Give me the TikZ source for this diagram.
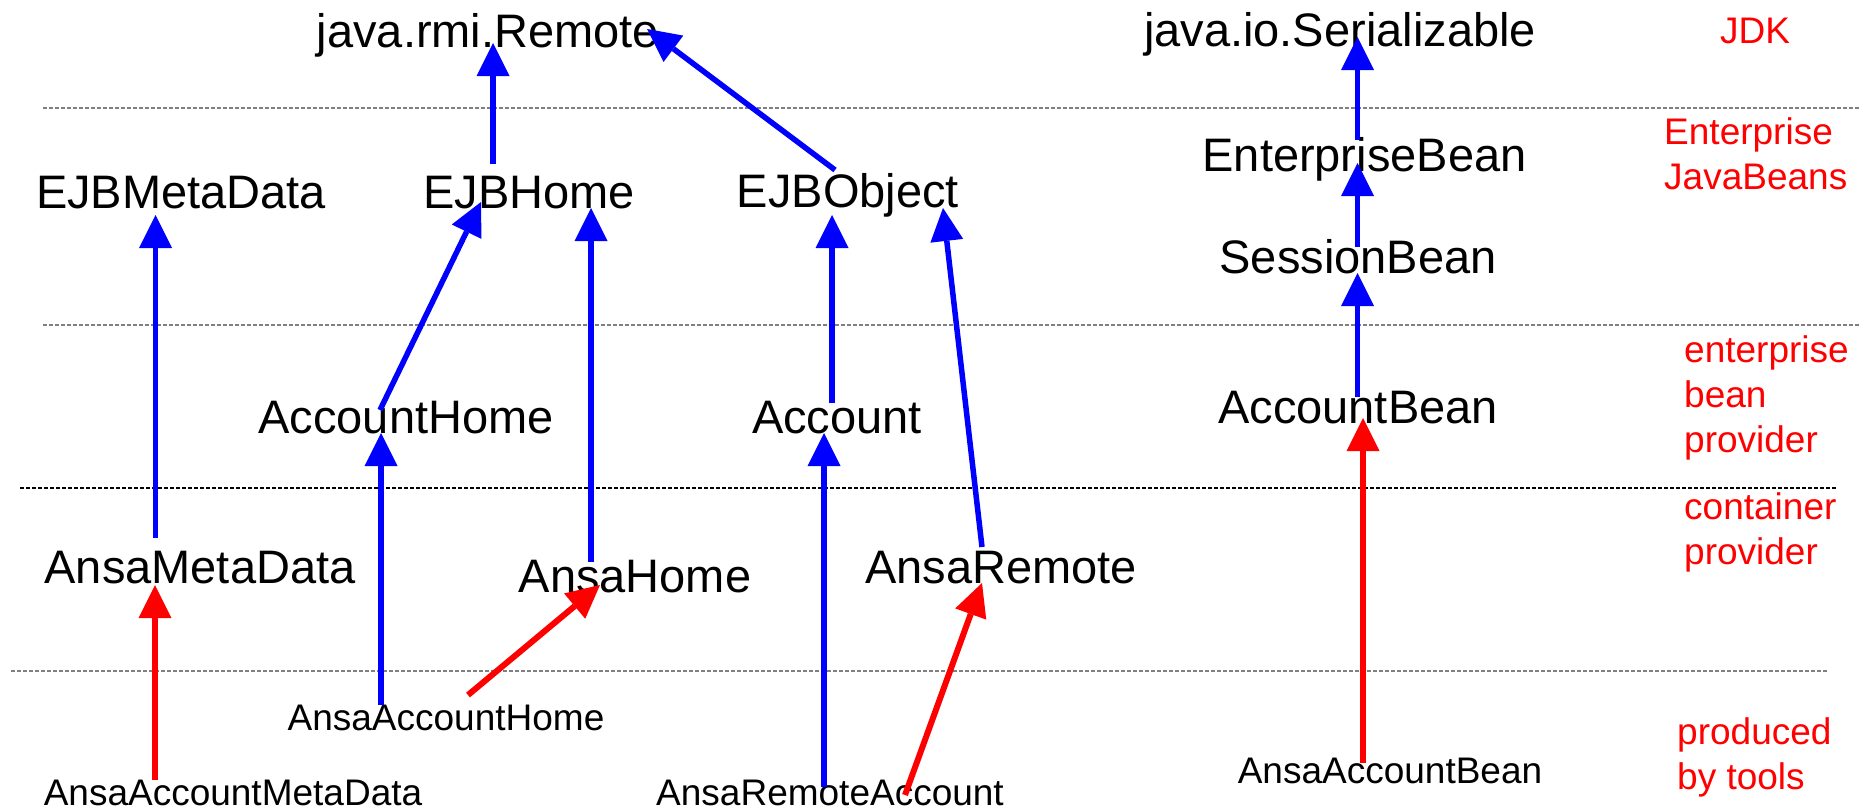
\documentclass[tikz,border=0pt]{standalone}
\usepackage{fontspec}
\setmainfont{Liberation Sans}
\usetikzlibrary{arrows.meta}
\definecolor{ublue}{RGB}{0,0,255}
\definecolor{ured}{RGB}{255,0,0}
\definecolor{sepgray}{RGB}{128,128,128}

\begin{document}
\begin{tikzpicture}[x=1pt,y=-1pt,
  cls/.style={anchor=base, inner sep=0pt, font=\fontsize{47}{56}\selectfont},
  gen/.style={anchor=base, inner sep=0pt, font=\fontsize{37}{45}\selectfont},
  layer/.style={anchor=base west, inner sep=0pt, align=left, text=ured,
                font=\fontsize{37}{45}\selectfont},
  sep/.style={draw=sepgray, line width=1.2pt, dash pattern=on 4pt off 2pt},
  api/.style={draw=ublue, line width=5.5pt,
              -{Triangle[length=33pt,width=33pt,line width=0pt]}},
  impl/.style={draw=ured, line width=6pt,
              -{Triangle[length=33pt,width=33pt,line width=0pt]}},
]
\useasboundingbox (0,0) rectangle (1872,811);

% layer separators
\draw[sep] (43,108) -- (1859,108);
\draw[sep] (43,325) -- (1859,325);
\draw[sep, draw=black] (20,488) -- (1837,488);
\draw[sep] (11,671) -- (1828,671);

% layer names (anchored at the baseline of their last line)
\node[layer] (lJDK)  at (1720,43)  {JDK};
\node[layer] (lEJB)  at (1664,189) {Enterprise\\JavaBeans};
\node[layer] (lProv) at (1684,452) {enterprise\\bean\\provider};
\node[layer] (lCont) at (1684,564) {container\\provider};
\node[layer] (lTool) at (1677,789) {produced\\by tools};

% interfaces and classes
\node[cls] (rmi)        at (488,47)    {java.rmi.Remote};
\node[cls] (ser)        at (1340,46)   {java.io.Serializable};
\node[cls] (meta)       at (181,208)   {EJBMetaData};
\node[cls] (home)       at (529,208)   {EJBHome};
\node[cls] (obj)        at (848,207)   {EJBObject};
\node[cls] (ebean)      at (1364.5,171){EnterpriseBean};
\node[cls] (sbean)      at (1358,273)  {SessionBean};
\node[cls] (acchome)    at (406,433)   {AccountHome};
\node[cls] (acc)        at (837,433)   {Account};
\node[cls] (accbean)    at (1358,423)  {AccountBean};
\node[cls] (ansameta)   at (200,583)   {AnsaMetaData};
\node[cls] (ansahome)   at (635,592)   {AnsaHome};
\node[cls] (ansaremote) at (1001,583)  {AnsaRemote};
\node[gen] (gahome)     at (446,730)   {AnsaAccountHome};
\node[gen] (gameta)     at (233,805)   {AnsaAccountMetaData};
\node[gen] (garemote)   at (830,805)   {AnsaRemoteAccount};
\node[gen] (gabean)     at (1390,783)  {AnsaAccountBean};

% connector end points
\coordinate (homeUp)        at (493,164);
\coordinate (rmiFromHome)   at (493,43);
\coordinate (objUp)         at (835,170);
\coordinate (rmiFromObj)    at (647,29);
\coordinate (ansametaUp)    at (155.5,538);
\coordinate (metaIn)        at (155.5,215);
\coordinate (acchomeUp)     at (380,410);
\coordinate (homeInL)       at (481,202);
\coordinate (ansahomeUp)    at (591,562);
\coordinate (homeInR)       at (591,208);
\coordinate (accUp)         at (832,403);
\coordinate (objInL)        at (832,215);
\coordinate (ansaremoteUp)  at (982,547);
\coordinate (objInR)        at (943,208);
\coordinate (ebeanUp)       at (1357.5,140);
\coordinate (serIn)         at (1357.5,37);
\coordinate (sbeanUp)       at (1357.5,247);
\coordinate (ebeanIn)       at (1357.5,163);
\coordinate (accbeanUp)     at (1357.5,397);
\coordinate (sbeanIn)       at (1357.5,273);
\coordinate (gabeanUp)      at (1363,763);
\coordinate (accbeanIn)     at (1363,418);
\coordinate (gahomeUpL)     at (381,705);
\coordinate (acchomeIn)     at (381,433);
\coordinate (garemoteUpL)   at (824,787);
\coordinate (accIn)         at (824,433);
\coordinate (gametaUp)      at (155,780);
\coordinate (ansametaIn)    at (155,585);
\coordinate (gahomeUpR)     at (468,695);
\coordinate (ansahomeIn)    at (600,585);
\coordinate (garemoteUpR)   at (905,795);
\coordinate (ansaremoteIn)  at (982,583);

% inheritance from the JDK and EJB interfaces
\draw[api] (homeUp) -- (rmiFromHome);
\draw[api] (objUp) -- (rmiFromObj);
\draw[api] (ansametaUp) -- (metaIn);
\draw[api] (acchomeUp) -- (homeInL);
\draw[api] (ansahomeUp) -- (homeInR);
\draw[api] (accUp) -- (objInL);
\draw[api] (ansaremoteUp) -- (objInR);
\draw[api] (ebeanUp) -- (serIn);
\draw[api] (sbeanUp) -- (ebeanIn);
\draw[api] (accbeanUp) -- (sbeanIn);
\draw[api] (gahomeUpL) -- (acchomeIn);
\draw[api] (garemoteUpL) -- (accIn);

% generated classes
\draw[impl] (gabeanUp) -- (accbeanIn);
\draw[impl] (gametaUp) -- (ansametaIn);
\draw[impl] (gahomeUpR) -- (ansahomeIn);
\draw[impl] (garemoteUpR) -- (ansaremoteIn);
\end{tikzpicture}
\end{document}
